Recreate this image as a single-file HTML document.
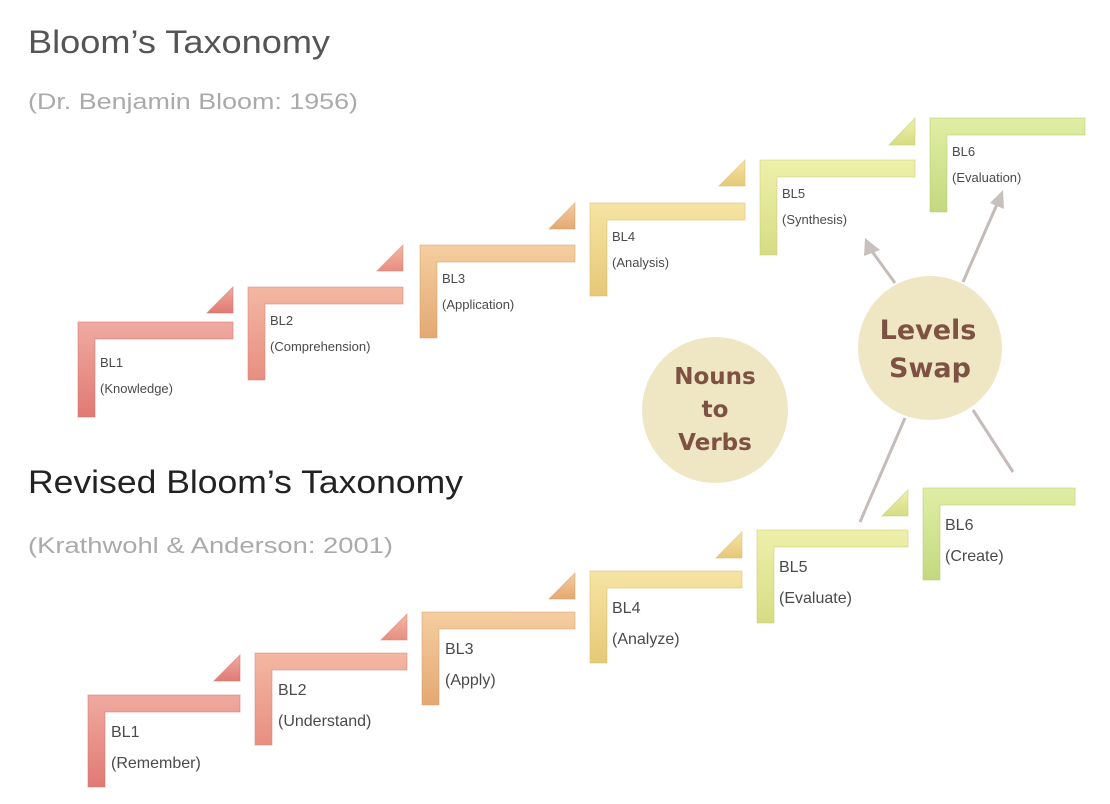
<!DOCTYPE html>
<html><head><meta charset="utf-8"><style>
html,body{margin:0;padding:0;background:#fff;}
svg{display:block}
.t{font-family:"Liberation Sans",sans-serif;}
.s{font-family:"Liberation Sans",sans-serif;fill:#4a4a4a}
.c{font-family:"DejaVu Sans",sans-serif;font-weight:bold;fill:#7d5242;text-anchor:middle}
</style></head><body>
<svg width="1110" height="804" viewBox="0 0 1110 804" xmlns="http://www.w3.org/2000/svg">
<defs>
<linearGradient id="g1" x1="0" y1="0" x2="0" y2="1"><stop offset="0" stop-color="#f0aaa0"/><stop offset="1" stop-color="#e07a74"/></linearGradient>
<linearGradient id="g2" x1="0" y1="0" x2="0" y2="1"><stop offset="0" stop-color="#f3b8a2"/><stop offset="1" stop-color="#e88e80"/></linearGradient>
<linearGradient id="g3" x1="0" y1="0" x2="0" y2="1"><stop offset="0" stop-color="#f5cea0"/><stop offset="1" stop-color="#e4a872"/></linearGradient>
<linearGradient id="g4" x1="0" y1="0" x2="0" y2="1"><stop offset="0" stop-color="#f6e4a4"/><stop offset="1" stop-color="#e6c878"/></linearGradient>
<linearGradient id="g5" x1="0" y1="0" x2="0" y2="1"><stop offset="0" stop-color="#eef0aa"/><stop offset="1" stop-color="#d6dc84"/></linearGradient>
<linearGradient id="g6" x1="0" y1="0" x2="0" y2="1"><stop offset="0" stop-color="#e0eea4"/><stop offset="1" stop-color="#c4d880"/></linearGradient>
</defs>

<text class="t" x="28" y="53" font-size="32" fill="#555" textLength="302" lengthAdjust="spacingAndGlyphs">Bloom’s Taxonomy</text>
<text class="t" x="28" y="109" font-size="22" fill="#aaa" textLength="330" lengthAdjust="spacingAndGlyphs">(Dr. Benjamin Bloom: 1956)</text>
<text class="t" x="28" y="493" font-size="32" fill="#222" textLength="435" lengthAdjust="spacingAndGlyphs">Revised Bloom’s Taxonomy</text>
<text class="t" x="28" y="553" font-size="22" fill="#aaa" textLength="365" lengthAdjust="spacingAndGlyphs">(Krathwohl &amp; Anderson: 2001)</text>

<!-- top row -->
<g stroke-width="1" stroke-opacity="0.5">
<path d="M78,322 h155 v17 h-138 v78 h-17 z" fill="url(#g1)" stroke="#d07068"/>
<path d="M207,313 h26 v-26 z" fill="url(#g1)" stroke="#d07068"/>
<path d="M248,287 h155 v17 h-138 v76 h-17 z" fill="url(#g2)" stroke="#d88070"/>
<path d="M377,271 h26 v-26 z" fill="url(#g2)" stroke="#d88070"/>
<path d="M420,245 h155 v17 h-138 v76 h-17 z" fill="url(#g3)" stroke="#d49a68"/>
<path d="M549,229 h26 v-26 z" fill="url(#g3)" stroke="#d49a68"/>
<path d="M590,203 h155 v17 h-138 v76 h-17 z" fill="url(#g4)" stroke="#d8b868"/>
<path d="M719,186 h26 v-26 z" fill="url(#g4)" stroke="#d8b868"/>
<path d="M760,160 h155 v17 h-138 v78 h-17 z" fill="url(#g5)" stroke="#c4ca74"/>
<path d="M889,145 h26 v-27 z" fill="url(#g5)" stroke="#c4ca74"/>
<path d="M930,118 h155 v17 h-138 v77 h-17 z" fill="url(#g6)" stroke="#b4c870"/>
</g>
<g class="s" font-size="13">
<text x="100" y="367">BL1</text><text x="100" y="393">(Knowledge)</text>
<text x="270" y="325">BL2</text><text x="270" y="351">(Comprehension)</text>
<text x="442" y="283">BL3</text><text x="442" y="309">(Application)</text>
<text x="612" y="241">BL4</text><text x="612" y="267">(Analysis)</text>
<text x="782" y="198">BL5</text><text x="782" y="224">(Synthesis)</text>
<text x="952" y="156">BL6</text><text x="952" y="182">(Evaluation)</text>
</g>

<!-- bottom row -->
<g stroke-width="1" stroke-opacity="0.5">
<path d="M88,695 h152 v17 h-135 v75 h-17 z" fill="url(#g1)" stroke="#d07068"/>
<path d="M214,681 h26 v-26 z" fill="url(#g1)" stroke="#d07068"/>
<path d="M255,653 h152 v17 h-135 v75 h-17 z" fill="url(#g2)" stroke="#d88070"/>
<path d="M381,640 h26 v-26 z" fill="url(#g2)" stroke="#d88070"/>
<path d="M422,612 h153 v17 h-136 v76 h-17 z" fill="url(#g3)" stroke="#d49a68"/>
<path d="M549,599 h26 v-26 z" fill="url(#g3)" stroke="#d49a68"/>
<path d="M590,571 h152 v17 h-135 v75 h-17 z" fill="url(#g4)" stroke="#d8b868"/>
<path d="M716,558 h26 v-26 z" fill="url(#g4)" stroke="#d8b868"/>
<path d="M757,530 h151 v17 h-134 v76 h-17 z" fill="url(#g5)" stroke="#c4ca74"/>
<path d="M882,516 h26 v-26 z" fill="url(#g5)" stroke="#c4ca74"/>
<path d="M923,488 h152 v17 h-135 v75 h-17 z" fill="url(#g6)" stroke="#b4c870"/>
</g>
<g class="s" font-size="16">
<text x="111" y="737">BL1</text><text x="111" y="768">(Remember)</text>
<text x="278" y="695">BL2</text><text x="278" y="726">(Understand)</text>
<text x="445" y="654">BL3</text><text x="445" y="685">(Apply)</text>
<text x="612" y="613">BL4</text><text x="612" y="644">(Analyze)</text>
<text x="779" y="572">BL5</text><text x="779" y="603">(Evaluate)</text>
<text x="945" y="530">BL6</text><text x="945" y="561">(Create)</text>
</g>

<!-- connectors -->
<g stroke="#c4bcb8" stroke-width="3" fill="none">
<line x1="895" y1="283" x2="871" y2="250"/>
<line x1="963" y1="282" x2="998" y2="202"/>
<line x1="905" y1="418" x2="860" y2="522"/>
<line x1="973" y1="410" x2="1013" y2="472"/>
</g>
<polygon points="865,238 880,250 864,256" fill="#c8c0bc"/>
<polygon points="1003,190 1004,209 990,203" fill="#c8c0bc"/>

<circle cx="715" cy="410" r="73" fill="#efe6c4"/>
<circle cx="930" cy="348" r="72" fill="#efe6c4"/>
<g class="c" font-size="23">
<text x="715" y="384">Nouns</text><text x="715" y="417">to</text><text x="715" y="450">Verbs</text>
</g>
<g class="c" font-size="27">
<text x="928" y="339">Levels</text><text x="930" y="377">Swap</text>
</g>
</svg>
</body></html>
